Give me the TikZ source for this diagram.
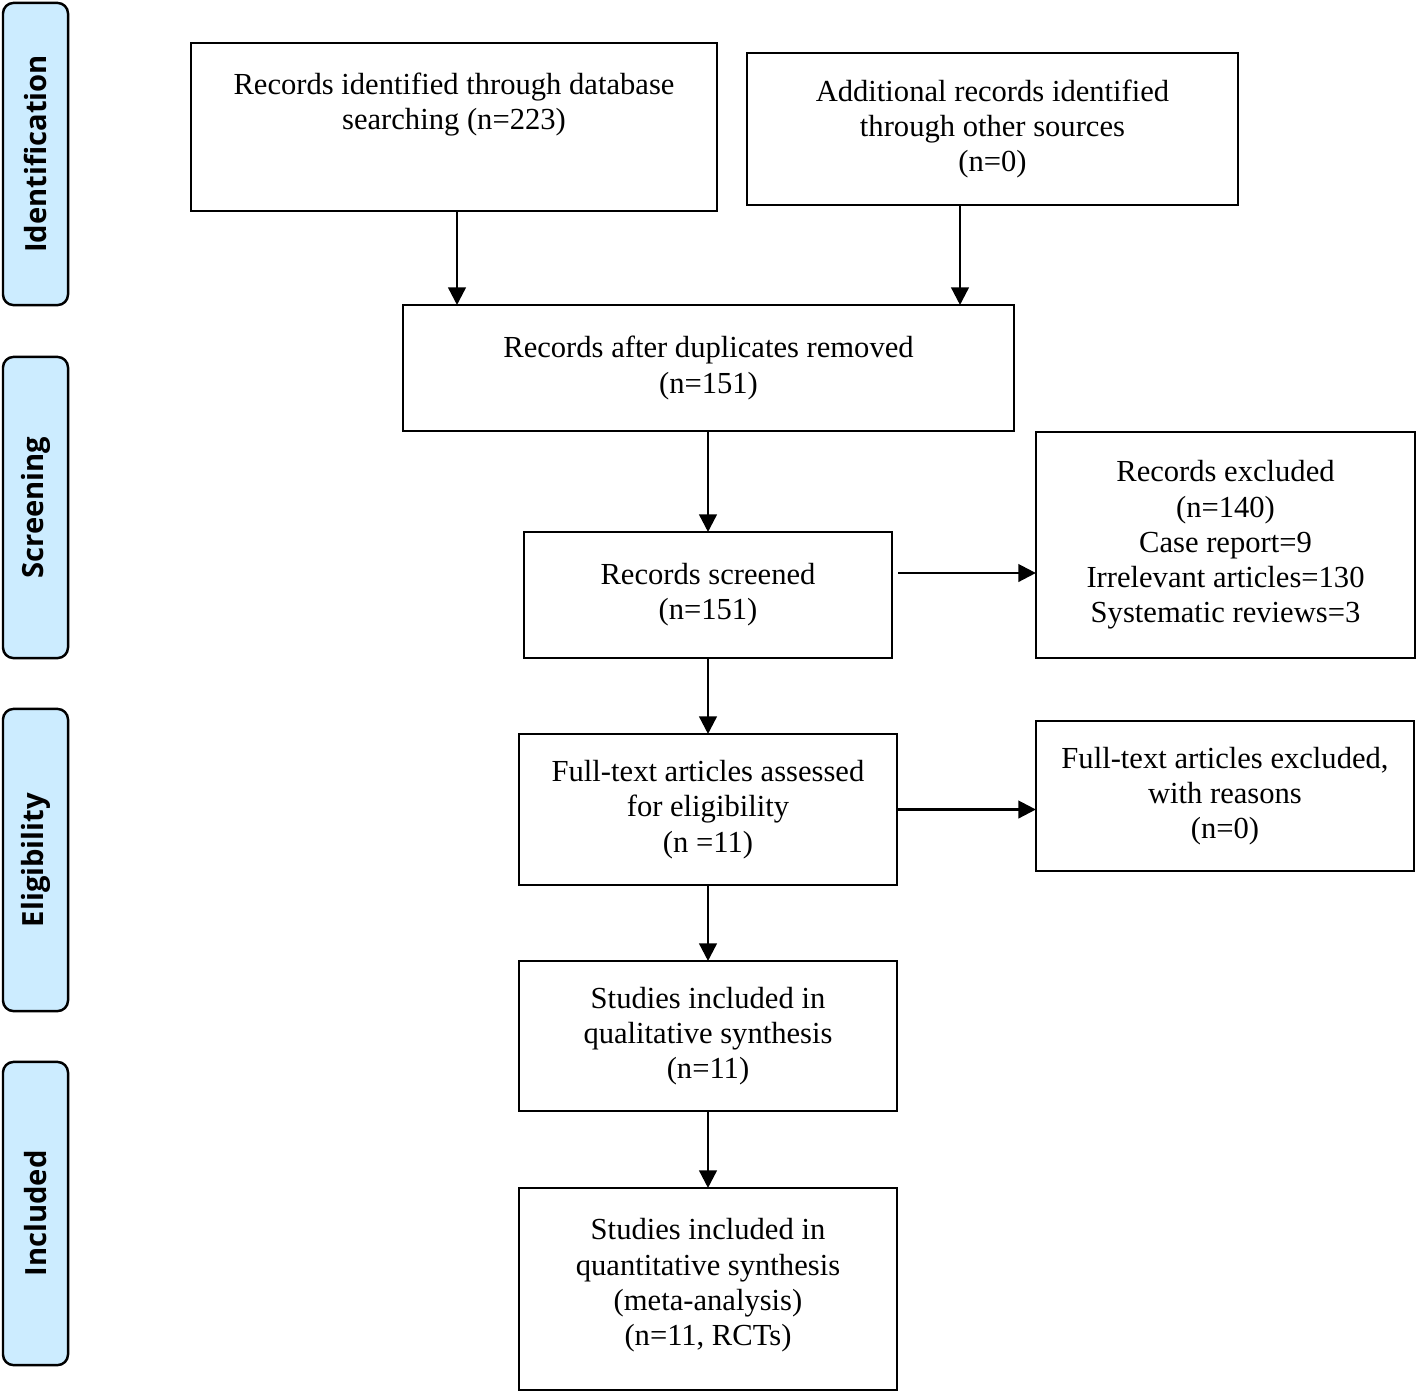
\documentclass[tikz,border=0pt]{standalone}
\usepackage{fontspec}
\setmainfont{Liberation Serif}
\newfontfamily\stagefont{Open Sans}
\usetikzlibrary{arrows.meta}

\tikzset{
  box/.style={draw, line width=0.6pt, align=center, inner sep=0pt, outer sep=0pt,
    font=\fontsize{8.7}{10}\selectfont},
  stage/.style={draw, line width=0.7pt, rounded corners=3pt, fill=stageblue,
    rotate=90, minimum height=0.65cm, inner sep=0pt, outer sep=0pt,
    font=\stagefont\bfseries\fontsize{8.3}{10}\selectfont},
  arr/.style={-{Triangle[length=5pt,width=5pt]}, line width=0.7pt}
}
\definecolor{stageblue}{RGB}{204,236,255}

\begin{document}
\begin{tikzpicture}[x=0.01cm,y=-0.01cm]
        \useasboundingbox (0,0) rectangle (1418,1393);

        % Stages on the left
        \node[stage, minimum width=3.02cm] (ident) at (35.5,154) {Identification};
        \node[stage, minimum width=3.01cm] (screen) at (35.5,507.5) {Screening};
        \node[stage, minimum width=3.02cm] (elig) at (35.5,860) {Eligibility};
        \node[stage, minimum width=3.03cm] (incl) at (35.5,1213.5) {Included};

        % Identification
        \node[box, minimum width=5.26cm, minimum height=1.68cm, text depth=14.7pt] (db) at (454,127)
            {Records identified through database\\searching (n=223)};
        \node[box, minimum width=4.91cm, minimum height=1.52cm] (other) at (992.5,129)
            {Additional records identified\\through other sources\\(n=0)};

        % Screening
        \node[box, minimum width=6.11cm, minimum height=1.26cm] (dup) at (708.5,368)
            {Records after duplicates removed\\(n=151)};
        \node[box, minimum width=3.68cm, minimum height=1.26cm] (screened) at (708,595)
            {Records screened\\(n=151)};
        \node[box, minimum width=3.79cm, minimum height=2.26cm] (excluded) at (1225.5,545)
            {Records excluded\\(n=140)\\Case report=9\\Irrelevant articles=130\\Systematic reviews=3};

        % Eligibility
        \node[box, minimum width=3.78cm, minimum height=1.51cm] (fulltext) at (708,809.5)
            {Full-text articles assessed\\for eligibility\\(n =11)};
        \node[box, minimum width=3.78cm, minimum height=1.50cm] (ftexcl) at (1225,796)
            {Full-text articles excluded,\\with reasons\\(n=0)};

        % Included
        \node[box, minimum width=3.78cm, minimum height=1.50cm] (qual) at (708,1036)
            {Studies included in\\qualitative synthesis\\(n=11)};
        \node[box, minimum width=3.78cm, minimum height=2.02cm, text depth=4pt] (quant) at (708,1289)
            {Studies included in\\quantitative synthesis\\(meta-analysis)\\(n=11, RCTs)};

        % Arrows
        \draw[arr] (db.south -| 457,0) -- (dup.north -| 457,0);
        \draw[arr] (other.south -| 960,0) -- (dup.north -| 960,0);
        \draw[arr] (dup.south -| screened.north) -- (screened.north);
        \draw[arr] ([xshift=0.6mm]screened.east |- 0,573) -- (excluded.west |- 0,573);
        \draw[arr] (screened.south) -- (fulltext.north);
        \draw[arr] (fulltext.east) -- (fulltext.east -| ftexcl.west);
        \draw[arr] (fulltext.south) -- (qual.north);
        \draw[arr] (qual.south) -- (quant.north);
    \end{tikzpicture}
\end{document}
